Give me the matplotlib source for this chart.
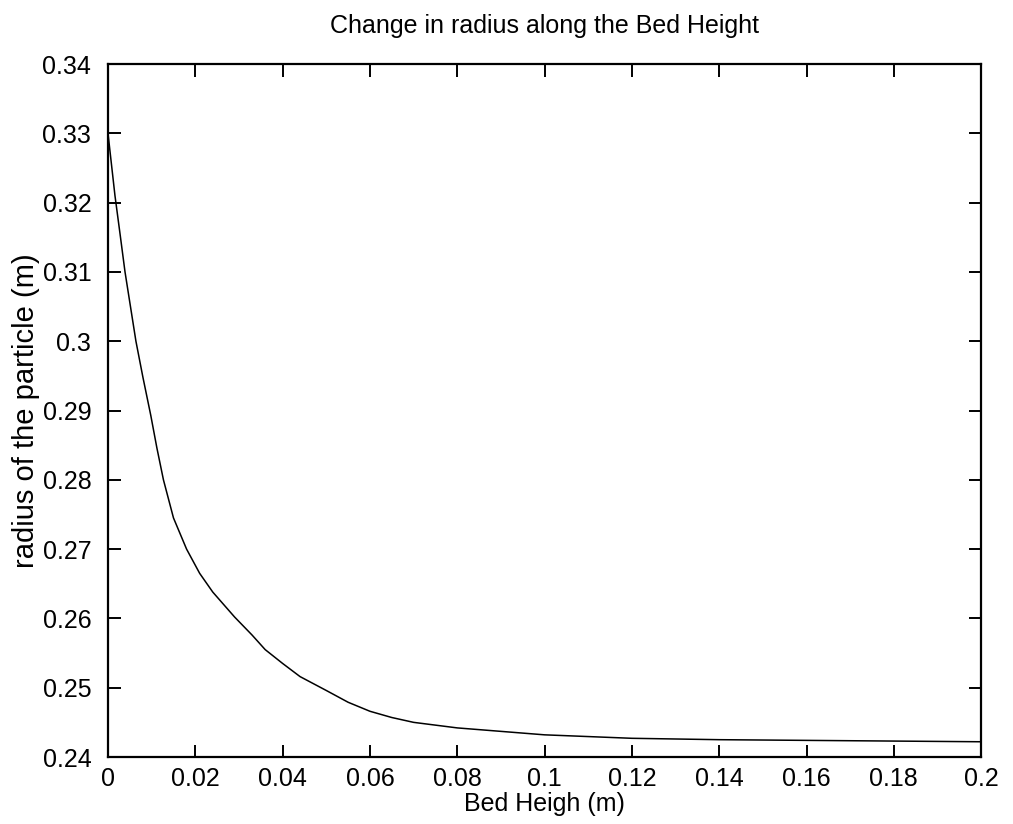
import matplotlib.pyplot as plt
import numpy as np

# bed height (m) vs particle radius (m)
bed_height = [0, 0.0008, 0.0016, 0.0028, 0.0039, 0.0052, 0.0064, 0.008, 0.0098,
              0.0112, 0.0127, 0.015, 0.018, 0.021, 0.024, 0.029, 0.033, 0.036,
              0.040, 0.044, 0.05, 0.055, 0.06, 0.065, 0.07, 0.08, 0.09,
              0.10, 0.12, 0.14, 0.16, 0.18, 0.20]
radius = [0.330, 0.3255, 0.321, 0.3153, 0.310, 0.3048, 0.300, 0.2948, 0.2893,
          0.2846, 0.280, 0.2745, 0.270, 0.2665, 0.2638, 0.2602, 0.2576, 0.2555,
          0.2535, 0.2516, 0.2496, 0.2479, 0.2466, 0.2457, 0.2450, 0.2442, 0.2437,
          0.2432, 0.2427, 0.2425, 0.2424, 0.2423, 0.2422]

xticks = np.arange(0, 0.2001, 0.02)
xlabels = ["0", "0.02", "0.04", "0.06", "0.08", "0.1", "0.12", "0.14", "0.16", "0.18", "0.2"]
yticks = np.arange(0.24, 0.3401, 0.01)
ylabels = ["0.24", "0.25", "0.26", "0.27", "0.28", "0.29", "0.3", "0.31", "0.32", "0.33", "0.34"]

plt.rcParams["font.family"] = ["Liberation Sans", "DejaVu Sans"]

fig = plt.figure(figsize=(10.13, 8.24), dpi=100)
ax = fig.add_axes([0.1066, 0.0813, 0.862, 0.841])

ax.plot(bed_height, radius, color="black", linewidth=1.1)

ax.set_xlim(0, 0.2)
ax.set_ylim(0.24, 0.34)
ax.set_xticks(xticks)
ax.set_xticklabels(xlabels)
ax.set_yticks(yticks)
ax.set_yticklabels(ylabels)
ax.tick_params(direction="in", length=9, width=1.4, labelsize=18,
               top=True, right=True)
ax.tick_params(axis="y", pad=12)
ax.tick_params(axis="x", pad=7)
for s in ax.spines.values():
    s.set_linewidth(1.6)

ax.set_title("Change in radius along the Bed Height", fontsize=18, pad=22)
ax.set_xlabel("Bed Heigh (m)", fontsize=18, labelpad=1)
ax.set_ylabel("radius of the particle (m)", fontsize=21, labelpad=2)

plt.savefig("out.png", dpi=100)
